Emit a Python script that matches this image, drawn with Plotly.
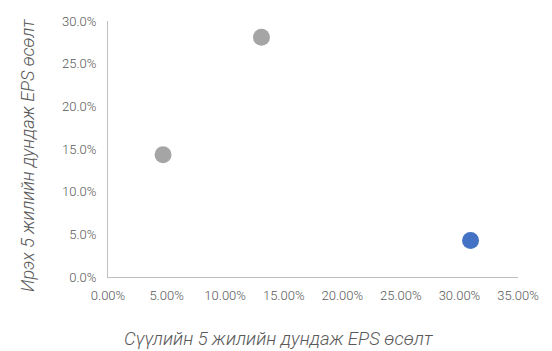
import plotly.graph_objects as go

# Data (fractions)
past_eps_growth = [0.047, 0.131, 0.3095]
future_eps_growth = [0.1433, 0.281, 0.0427]
point_colors = ["#A5A5A5", "#A5A5A5", "#4472C4"]

x_title = "Сүүлийн 5 жилийн дундаж EPS өсөлт"
y_title = "Ирэх 5 жилийн дундаж EPS өсөлт"

fig = go.Figure(
    go.Scatter(
        x=past_eps_growth,
        y=future_eps_growth,
        mode="markers",
        marker=dict(size=17, color=point_colors, line=dict(width=0)),
        hoverinfo="x+y",
    )
)

W, H = 552, 351
L, R, T, B = 108, 34, 21, 74
pw = W - L - R
ph = H - T - B

tick_font = dict(family="Roboto, Arial, sans-serif", size=13, color="#595959", weight=300)
title_font = dict(family="Roboto, Arial, sans-serif", size=18, color="#595959",
                  style="italic", weight=300)
x_title_font = dict(title_font, size=18.5)

fig.update_layout(
    width=W,
    height=H,
    margin=dict(l=L, r=R, t=T, b=B, autoexpand=False),
    paper_bgcolor="white",
    plot_bgcolor="white",
    showlegend=False,
    xaxis=dict(
        range=[0, 0.35],
        tickvals=[0, 0.05, 0.10, 0.15, 0.20, 0.25, 0.30, 0.35],
        tickformat=".2%",
        showgrid=False,
        zeroline=False,
        showline=True,
        linecolor="#BFBFBF",
        linewidth=1,
        ticks="outside",
        ticklen=6,
        tickcolor="rgba(0,0,0,0)",
        tickfont=tick_font,
        automargin=False,
    ),
    yaxis=dict(
        range=[0, 0.30],
        tickvals=[0, 0.05, 0.10, 0.15, 0.20, 0.25, 0.30],
        tickformat=".1%",
        showgrid=False,
        zeroline=False,
        showline=True,
        linecolor="#BFBFBF",
        linewidth=1,
        ticks="outside",
        ticklen=8,
        tickcolor="rgba(0,0,0,0)",
        tickfont=tick_font,
        automargin=False,
    ),
    annotations=[
        dict(
            text=x_title,
            xref="paper", yref="paper",
            x=(278 - L) / pw, y=(277 - 339) / ph,
            xanchor="center", yanchor="middle",
            showarrow=False,
            font=x_title_font,
        ),
        dict(
            text=y_title,
            xref="paper", yref="paper",
            x=(27 - L) / pw, y=(277 - 156) / ph,
            xanchor="center", yanchor="middle",
            textangle=-90,
            showarrow=False,
            font=title_font,
        ),
    ],
)

fig.write_html(
    "out.html",
    config={"displayModeBar": False},
    post_script="document.body.style.margin='0';document.body.style.overflow='hidden';",
)
